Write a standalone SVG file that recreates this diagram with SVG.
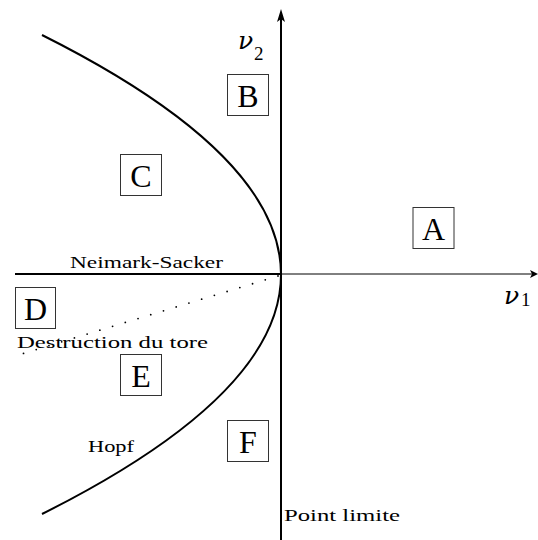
<svg xmlns="http://www.w3.org/2000/svg" width="538" height="540" viewBox="0 0 538 540">
<style>
.box{fill:#fff;stroke:#333;stroke-width:1}
.big{font-family:"Liberation Serif","DejaVu Serif",serif;font-size:32px;fill:#000;text-anchor:middle}
.lbl{font-family:"Liberation Serif","DejaVu Serif",serif;font-size:17px;fill:#000}
.nu{font-family:"DejaVu Serif","Liberation Serif",serif;font-style:italic;font-size:25px;fill:#000}
.sub{font-family:"Liberation Serif","DejaVu Serif",serif;font-size:19px;fill:#000}
.thick{stroke:#000;stroke-width:2;fill:none}
.thin{stroke:#000;stroke-width:1;fill:none}
</style>
<rect width="538" height="540" fill="#fff"/>
<g id="connectors">
  <line class="thin" x1="281" y1="274" x2="534" y2="274"/>
  <polygon points="538,274 530,270 532,274 530,278" fill="#000"/>
  <line class="thick" x1="15" y1="274" x2="281" y2="274"/>
  <line class="thick" x1="281" y1="540" x2="281" y2="18"/>
  <polygon points="281,9 277,22 281,19 285,22" fill="#000"/>
  <path class="thick" d="M42,35 Q520,274.5 42,514"/>
  <line x1="278" y1="276" x2="15" y2="356" stroke="#000" stroke-width="1.8" stroke-linecap="round" stroke-dasharray="0 13.3"/>
</g>
<g id="axis-nu2"><text class="nu" x="238" y="49">ν</text><text class="sub" x="254" y="60">2</text></g>
<g id="axis-nu1"><text class="nu" x="504" y="304">ν</text><text class="sub" x="521" y="306">1</text></g>
<g id="A"><rect class="box" x="413" y="207.5" width="41" height="41"/><text class="big" x="433.5" y="240">A</text></g>
<g id="B"><rect class="box" x="227.5" y="74.5" width="41" height="41"/><text class="big" x="248" y="107">B</text></g>
<g id="C"><rect class="box" x="120.5" y="154.5" width="41" height="41"/><text class="big" x="141" y="187">C</text></g>
<g id="D"><rect class="box" x="15.5" y="287.5" width="40" height="41"/><text class="big" x="35.5" y="320">D</text></g>
<g id="E"><rect class="box" x="120.5" y="354.5" width="41" height="41"/><text class="big" x="141" y="387">E</text></g>
<g id="F"><rect class="box" x="227.5" y="420.5" width="41" height="41"/><text class="big" x="248" y="453">F</text></g>
<g id="labels">
  <text class="lbl" x="70" y="268" textLength="153" lengthAdjust="spacingAndGlyphs">Neimark-Sacker</text>
  <text class="lbl" x="17" y="348" textLength="191" lengthAdjust="spacingAndGlyphs">Destruction du tore</text>
  <text class="lbl" x="88" y="452" textLength="46" lengthAdjust="spacingAndGlyphs">Hopf</text>
  <text class="lbl" x="284" y="521" textLength="116" lengthAdjust="spacingAndGlyphs">Point limite</text>
</g>
</svg>
